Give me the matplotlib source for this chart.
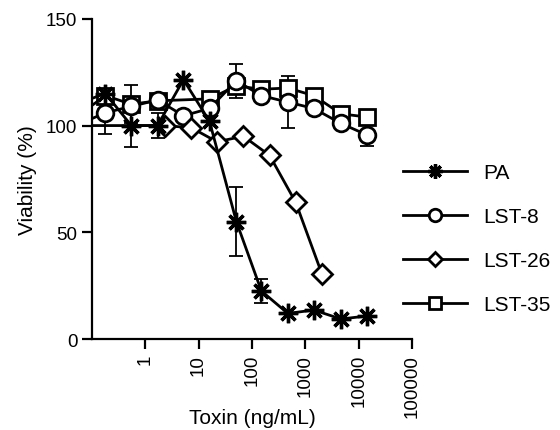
import numpy as np
import matplotlib
matplotlib.use("Agg")
import matplotlib.pyplot as plt

plt.rcParams['font.family'] = ['Liberation Sans', 'DejaVu Sans']

# toxin concentrations (ng/mL), first value sits left of the axis
conc = [0.05, 0.18, 0.55, 1.7, 5.2, 16, 51, 150, 470, 1440, 4630, 14300]

pa = [110, 115, 100, 100, 121.5, 102, 55, 22.5, 12, 13.6, 9.4, 10.8]
pa_err = [0, 0, 10, 6, 0, 0, 16, 5.5, 0, 0, 0, 0]

lst8 = [100, 106, 109, 112, 104.6, 108, 121, 114, 111, 108, 101, 95.6]
lst8_err = [0, 10, 0, 0, 0, 0, 8, 0, 12, 0, 0, 5]

conc35 = [0.05, 0.18, 0.55, 1.7, 16, 51, 150, 470, 1440, 4630, 14300]
lst35 = [104, 114, 110, 111.6, 112.5, 118.6, 117, 117.6, 114, 105.5, 104]
lst35_err = [0, 0, 9, 0, 0, 4, 0, 0, 0, 0, 0]

conc26 = [0.05, 2.3, 7.3, 22, 69, 214, 660, 2040]
lst26 = [100, 100, 99, 92.4, 95, 86, 64, 30.5]

fig = plt.figure(figsize=(5.6, 4.31), dpi=100)
ax = fig.add_axes([0.164, 0.211, 0.572, 0.743])

lw = 2.0
ax.errorbar(conc, pa, yerr=pa_err, fmt='none', ecolor='black', elinewidth=1.3, capsize=5, capthick=1.3, zorder=1)
ax.errorbar(conc, lst8, yerr=lst8_err, fmt='none', ecolor='black', elinewidth=1.3, capsize=5, capthick=1.3, zorder=1)
ax.errorbar(conc35, lst35, yerr=lst35_err, fmt='none', ecolor='black', elinewidth=1.3, capsize=5, capthick=1.3, zorder=1)

ax.plot(conc35, lst35, color='black', lw=lw, marker='s', ms=11, mfc='white', mec='black', mew=2, label='LST-35', zorder=2)
ax.plot(conc, lst8, color='black', lw=lw, marker='o', ms=12, mfc='white', mec='black', mew=2, label='LST-8', zorder=3)
ax.plot(conc26, lst26, color='black', lw=lw, marker='D', ms=10, mfc='white', mec='black', mew=2, label='LST-26', zorder=4)
ax.plot(conc, pa, color='black', lw=lw, marker=(8, 2, 0), ms=14, mec='black', mew=2.4, label='PA', zorder=5)

ax.set_xscale('log')
ax.set_xlim(0.1, 100000)
ax.set_ylim(0, 150)
ax.set_xticks([1, 10, 100, 1000, 10000, 100000])
ax.set_xticklabels(['1', '10', '100', '1000', '10000', '100000'], rotation=90)
ax.xaxis.set_minor_locator(matplotlib.ticker.NullLocator())
ax.set_yticks([0, 50, 100, 150])

for s in ['top', 'right']:
    ax.spines[s].set_visible(False)
for s in ['left', 'bottom']:
    ax.spines[s].set_linewidth(1.6)
ax.tick_params(axis='both', which='major', direction='out', length=7, width=1.6, labelsize=13.5)

ax.set_xlabel('Toxin (ng/mL)', fontsize=15)
ax.xaxis.set_label_coords(0.5, -0.216)
ax.set_ylabel('Viability (%)', fontsize=15)
ax.yaxis.set_label_coords(-0.172, 0.5)

handles, labels = ax.get_legend_handles_labels()
order = [3, 1, 2, 0]
fig.legend([handles[i] for i in order], [labels[i] for i in order],
           loc='upper left', bbox_to_anchor=(0.686, 0.663), frameon=False,
           fontsize=15, handlelength=3.1, handletextpad=0.75, labelspacing=1.2, markerscale=0.75)

fig.savefig('out.png', dpi=100)
